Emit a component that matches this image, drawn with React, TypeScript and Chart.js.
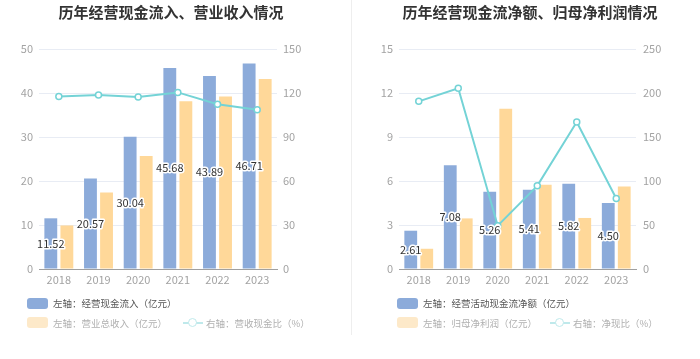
import React, { useEffect, useRef } from "react";
import { Chart, registerables } from "chart.js";

Chart.register(...registerables);

const FONT = "'Noto Sans CJK SC', 'Microsoft YaHei', sans-serif";

const years = ["2018", "2019", "2020", "2021", "2022", "2023"];

// Left chart
const cashInflow = [11.52, 20.57, 30.04, 45.68, 43.89, 46.71];
const revenue = [9.9, 17.4, 25.7, 38.1, 39.2, 43.2];
const inflowRatio = [117.6, 118.6, 117.2, 120.4, 112.4, 108.6];

// Right chart
const netCashFlow = [2.61, 7.08, 5.26, 5.41, 5.82, 4.5];
const netProfit = [1.38, 3.45, 10.93, 5.75, 3.48, 5.63];
const netRatio = [190.5, 205.3, 49.2, 94.5, 167.0, 80.2];

const BLUE = "#8cabda";
const YELLOW = "#ffd899";
const TEAL = "#74d3d6";

const labelPlugin = {
  id: "barLabels",
  afterDatasetsDraw(chart: any) {
    const meta = chart.getDatasetMeta(0);
    const ds = chart.data.datasets[0];
    const ctx = chart.ctx;
    ctx.save();
    ctx.font = `11px ${FONT}`;
    ctx.textAlign = "center";
    ctx.textBaseline = "middle";
    ctx.lineJoin = "round";
    meta.data.forEach((el: any, i: number) => {
      const v = ds.data[i] as number;
      const txt = v.toFixed(2);
      const y = (el.y + el.base) / 2;
      ctx.lineWidth = 3;
      ctx.strokeStyle = "#ffffff";
      ctx.strokeText(txt, el.x, y);
      ctx.fillStyle = "#333333";
      ctx.fillText(txt, el.x, y);
    });
    ctx.restore();
  },
};

function makeConfig(p: {
  bar1: number[];
  bar2: number[];
  line: number[];
  l1: string;
  l2: string;
  l3: string;
  yMax: number;
  yStep: number;
  y1Max: number;
  y1Step: number;
  leftW: number;
  rightW: number;
  rightPad: number;
}): any {
  const tickFont = { size: 11, family: FONT };
  return {
    type: "bar",
    data: {
      labels: years,
      datasets: [
        {
          type: "bar",
          label: p.l1,
          data: p.bar1,
          backgroundColor: BLUE,
          yAxisID: "y",
          categoryPercentage: 0.81,
          barPercentage: 0.8,
        },
        {
          type: "bar",
          label: p.l2,
          data: p.bar2,
          backgroundColor: YELLOW,
          yAxisID: "y",
          categoryPercentage: 0.81,
          barPercentage: 0.8,
        },
        {
          type: "line",
          label: p.l3,
          data: p.line,
          yAxisID: "y1",
          borderColor: TEAL,
          borderWidth: 2,
          pointRadius: 3,
          pointBackgroundColor: "#ffffff",
          pointBorderColor: TEAL,
          pointBorderWidth: 1.5,
          tension: 0,
          order: -1,
        },
      ],
    },
    options: {
      responsive: false,
      animation: false,
      devicePixelRatio: 1,
      layout: { padding: { top: 49, bottom: 0, left: 0, right: 0 } },
      plugins: {
        legend: { display: false },
        tooltip: { enabled: false },
        title: { display: false },
      },
      scales: {
        x: {
          grid: { display: false, drawTicks: false },
          border: { display: true, color: "#a0a0a0" },
          ticks: { color: "#a3a3a3", font: tickFont, padding: 4 },
          afterFit: (s: any) => {
            s.height = 90;
          },
        },
        y: {
          position: "left",
          min: 0,
          max: p.yMax,
          ticks: { stepSize: p.yStep, color: "#a3a3a3", font: tickFont, padding: 6 },
          grid: { color: "#e8ecf4", drawTicks: false },
          border: { display: false },
          afterFit: (s: any) => {
            s.width = p.leftW;
          },
        },
        y1: {
          position: "right",
          min: 0,
          max: p.y1Max,
          ticks: { stepSize: p.y1Step, color: "#a3a3a3", font: tickFont, padding: p.rightPad },
          grid: { display: false, drawTicks: false },
          border: { display: false },
          afterFit: (s: any) => {
            s.width = p.rightW;
          },
        },
      },
    },
    plugins: [labelPlugin],
  };
}

function BoxItem(props: { x: number; y: number; color: string; text: string; textColor: string }) {
  return (
    <>
      <div
        style={{
          position: "absolute",
          left: props.x,
          top: props.y - 5.5,
          width: 21,
          height: 11,
          borderRadius: 3,
          background: props.color,
        }}
      />
      <div
        style={{
          position: "absolute",
          left: props.x + 26,
          top: props.y - 8,
          height: 16,
          lineHeight: "16px",
          fontSize: 9.5,
          color: props.textColor,
          whiteSpace: "nowrap",
        }}
      >
        {props.text}
      </div>
    </>
  );
}

function LineItem(props: { x: number; y: number; text: string }) {
  return (
    <>
      <div
        style={{
          position: "absolute",
          left: props.x,
          top: props.y - 1,
          width: 20,
          height: 2,
          background: "#bfe9eb",
        }}
      />
      <div
        style={{
          position: "absolute",
          left: props.x + 5,
          top: props.y - 5,
          width: 7,
          height: 7,
          borderRadius: "50%",
          border: "1.5px solid #bfe9eb",
          background: "#fff",
        }}
      />
      <div
        style={{
          position: "absolute",
          left: props.x + 23,
          top: props.y - 8,
          height: 16,
          lineHeight: "16px",
          fontSize: 9.5,
          color: "#b0b0b0",
          whiteSpace: "nowrap",
        }}
      >
        {props.text}
      </div>
    </>
  );
}

export default function App() {
  const ref1 = useRef<HTMLCanvasElement>(null);
  const ref2 = useRef<HTMLCanvasElement>(null);

  useEffect(() => {
    Chart.defaults.font.family = FONT;
    const c1 = new Chart(
      ref1.current as HTMLCanvasElement,
      makeConfig({
        bar1: cashInflow,
        bar2: revenue,
        line: inflowRatio,
        l1: "左轴：经营现金流入（亿元）",
        l2: "左轴：营业总收入（亿元）",
        l3: "右轴：营收现金比（%）",
        yMax: 50,
        yStep: 10,
        y1Max: 150,
        y1Step: 30,
        leftW: 39,
        rightW: 73,
        rightPad: 6,
      })
    );
    const c2 = new Chart(
      ref2.current as HTMLCanvasElement,
      makeConfig({
        bar1: netCashFlow,
        bar2: netProfit,
        line: netRatio,
        l1: "左轴：经营活动现金流净额（亿元）",
        l2: "左轴：归母净利润（亿元）",
        l3: "右轴：净现比（%）",
        yMax: 15,
        yStep: 3,
        y1Max: 250,
        y1Step: 50,
        leftW: 49,
        rightW: 64,
        rightPad: 7,
      })
    );
    return () => {
      c1.destroy();
      c2.destroy();
    };
  }, []);

  const titleStyle: React.CSSProperties = {
    position: "absolute",
    top: 0,
    height: 24,
    lineHeight: "24px",
    textAlign: "center",
    fontSize: 15,
    fontWeight: "bold",
    color: "#333",
    whiteSpace: "nowrap",
  };

  return (
    <div
      style={{
        position: "fixed",
        left: 0,
        top: 0,
        width: 700,
        height: 359,
        background: "#fff",
        fontFamily: FONT,
        overflow: "hidden",
      }}
    >
      <canvas
        ref={ref1}
        width={350}
        height={359}
        style={{ position: "absolute", left: 0, top: 0, width: 350, height: 359 }}
      />
      <canvas
        ref={ref2}
        width={350}
        height={359}
        style={{ position: "absolute", left: 350, top: 0, width: 350, height: 359 }}
      />
      <div style={{ position: "absolute", left: 351, top: 0, width: 1, height: 335, background: "#eeeeee" }} />
      <div style={{ ...titleStyle, left: 0, width: 342 }}>历年经营现金流入、营业收入情况</div>
      <div style={{ ...titleStyle, left: 350, width: 360 }}>历年经营现金流净额、归母净利润情况</div>

      <BoxItem x={27} y={303} color={BLUE} text="左轴：经营现金流入（亿元）" textColor="#555" />
      <BoxItem x={27} y={322.5} color="#fde9c9" text="左轴：营业总收入（亿元）" textColor="#b0b0b0" />
      <LineItem x={183} y={322.5} text="右轴：营收现金比（%）" />

      <BoxItem x={397} y={303} color={BLUE} text="左轴：经营活动现金流净额（亿元）" textColor="#555" />
      <BoxItem x={397} y={322.5} color="#fde9c9" text="左轴：归母净利润（亿元）" textColor="#b0b0b0" />
      <LineItem x={550} y={322.5} text="右轴：净现比（%）" />
    </div>
  );
}
